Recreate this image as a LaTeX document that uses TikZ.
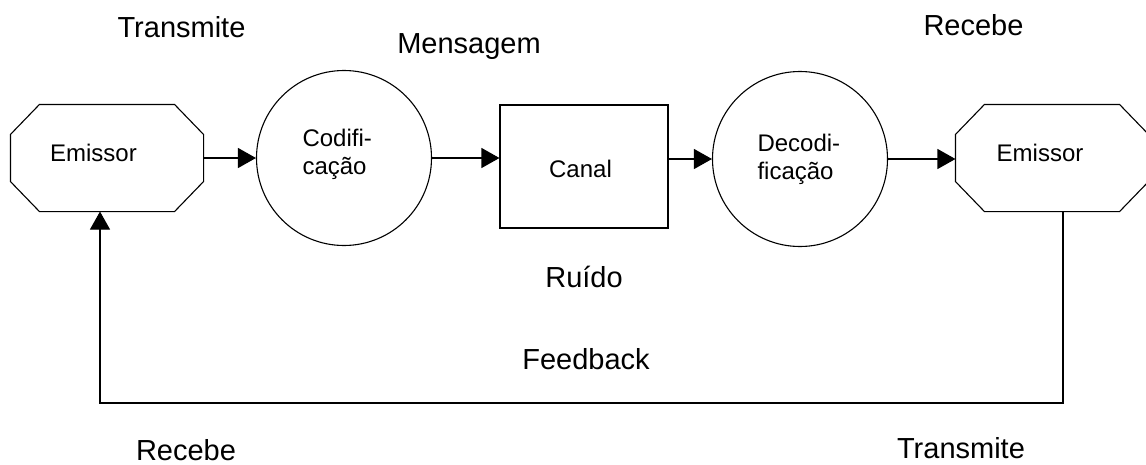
\documentclass[tikz,border=0pt]{standalone}
\usepackage{fontspec}
\setmainfont{Liberation Sans}
\usetikzlibrary{arrows.meta}
\begin{document}
\begin{tikzpicture}[x=1pt,y=-1pt,
  line width=1.1pt,
  outer/.style={inner sep=0pt,anchor=base,font=\fontsize{29}{34}\selectfont},
  inner/.style={inner sep=0pt,anchor=base,font=\fontsize{24}{28}\selectfont},
  innerl/.style={inner sep=0pt,anchor=base west,font=\fontsize{24}{28}\selectfont},
  octobox/.style={draw=none,inner sep=0pt,minimum width=192pt,minimum height=106pt},
  circbox/.style={draw,circle,inner sep=0pt,minimum size=175pt},
  arr/.style={-{Triangle[length=18pt,width=20pt]}}
]
\clip (0,0) rectangle (1146,464);
\fill[white] (0,0) rectangle (1146,464);
% shapes
\node[octobox] (e1) at (107,158) {};
\node[octobox] (e2) at (1052,158) {};
\foreach \n in {e1,e2}{
  \draw ([xshift=29pt]\n.north west) -- ([xshift=-29pt]\n.north east)
     -- ([yshift=-30pt]\n.north east) -- ([yshift=30pt]\n.south east)
     -- ([xshift=-29pt]\n.south east) -- ([xshift=29pt]\n.south west)
     -- ([yshift=30pt]\n.south west) -- ([yshift=-30pt]\n.north west) -- cycle;
}
\node[circbox] (cod) at (344,158) {};
\node[draw,inner sep=0pt,minimum width=168pt,minimum height=123pt] (canal) at (584,166.5) {};
\node[circbox] (dec) at (800,159) {};
% inner texts
\node[inner] (t1) at (93.5,161) {Emissor};
\node[inner] (t2) at (1040,161) {Emissor};
\node[inner] (t3) at (580.5,177) {Canal};
\node[innerl] (c1) at (302,146) {Codifi-};
\node[innerl] (c2) at (302,174) {cação};
\node[innerl] (d1) at (757,151) {Decodi-};
\node[innerl] (d2) at (757,179) {ficação};
% outer labels
\node[outer] (l1) at (181.5,37) {Transmite};
\node[outer] (l2) at (469,53) {Mensagem};
\node[outer] (l3) at (973.5,35) {Recebe};
\node[outer] (l4) at (584,287) {Ruído};
\node[outer] (l5) at (586,369) {Feedback};
\node[outer] (l6) at (186,460) {Recebe};
\node[outer] (l7) at (961,458) {Transmite};
% connectors
\draw[arr] (e1.east) -- (cod.west);
\draw[arr] (cod.east) -- (cod.east -| canal.west);
\draw[arr] (canal.east |- dec.west) -- (dec.west);
\draw[arr] (dec.east) -- (dec.east -| e2.west);
\coordinate (f1) at (1063,403);
\coordinate (f2) at (100,403);
\draw[arr] (e2.south -| f1) -- (f1) -- (f2) -- (f2 |- e1.south);
\end{tikzpicture}
\end{document}
